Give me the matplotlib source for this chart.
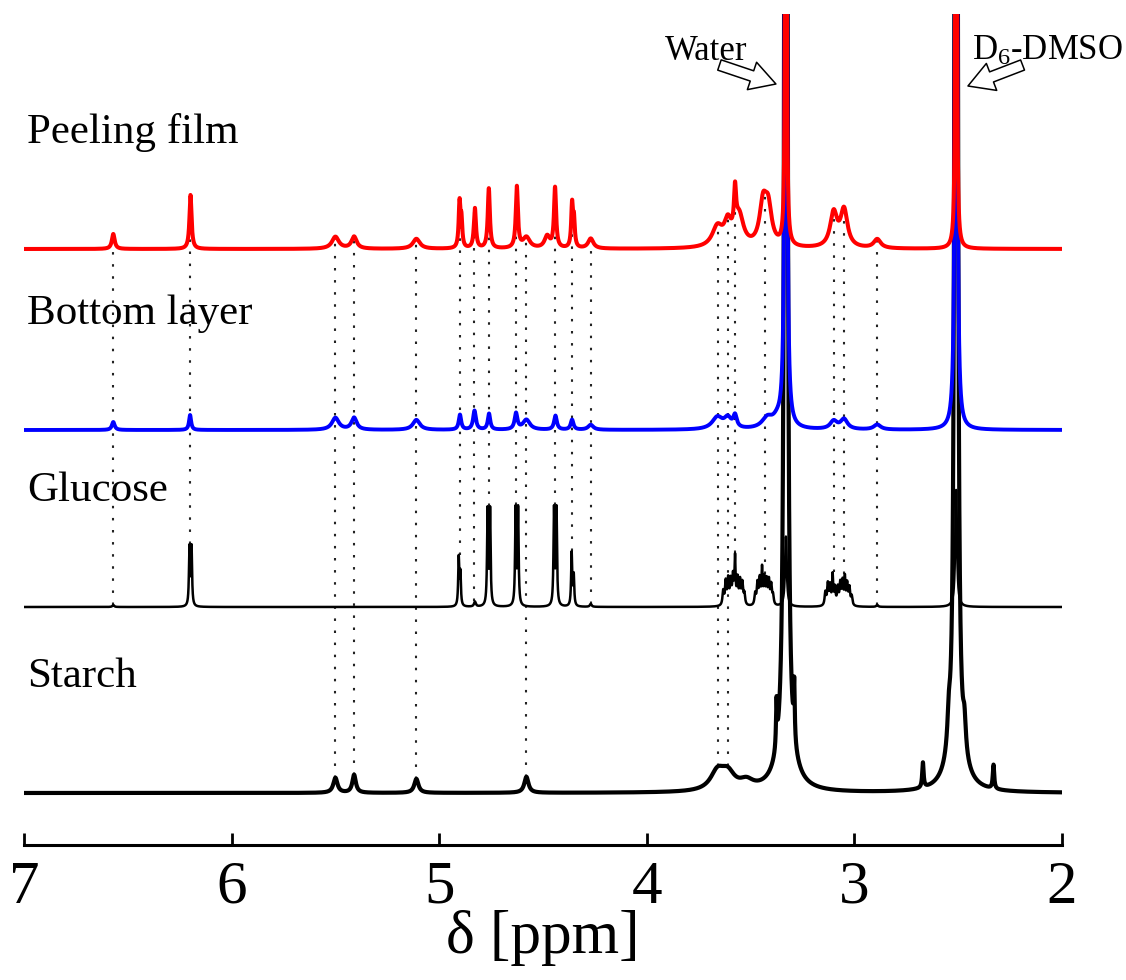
import numpy as np
import matplotlib
matplotlib.use("Agg")
import matplotlib.pyplot as plt

plt.rcParams['font.family'] = ['Liberation Serif', 'DejaVu Serif']
plt.rcParams['mathtext.fontset'] = 'custom'
plt.rcParams['mathtext.rm'] = 'Liberation Serif'
plt.rcParams['mathtext.it'] = 'Liberation Serif:italic'

# ---- chemical-shift axis ----
ppm_max, ppm_min = 7.0, 2.0
tick_values = [7, 6, 5, 4, 3, 2]
tick_labels = ['7', '6', '5', '4', '3', '2']

# ---- peak tables: position [ppm], height [a.u.], half width [ppm] ----
film_pos = [6.57, 6.198, 5.50, 5.41, 5.11, 4.902, 4.893, 4.828,
            4.761, 4.626, 4.58, 4.48, 4.442, 4.360, 4.351,
            4.27, 3.66, 3.61, 3.575, 3.555, 3.44, 3.415, 3.33, 3.10, 3.05, 2.89, 2.51]
film_height = [15, 54, 12, 12, 10, 44, 26, 40,
               60, 61, 11, 12, 60, 42, 26,
               10, 20, 22, 40, 30, 40, 36, 3000, 34, 37, 9, 3000]
film_width = [0.008, 0.006, 0.02, 0.015, 0.02, 0.005, 0.005, 0.006,
              0.006, 0.006, 0.02, 0.015, 0.006, 0.005, 0.005,
              0.015, 0.03, 0.02, 0.006, 0.025, 0.02, 0.02, 0.0015, 0.02, 0.02, 0.02, 0.0015]

bottom_pos = [6.57, 6.20, 5.50, 5.41, 5.11, 4.90, 4.83, 4.76, 4.63, 4.58,
              4.44, 4.36, 4.27, 3.66, 3.61, 3.575, 3.42, 3.37, 3.33, 3.10,
              3.05, 2.89, 2.51]
bottom_height = [8, 15, 12, 12, 10, 15, 19, 16, 16, 10,
                 14, 10, 5, 12, 10, 12, 10, 8, 4000, 8,
                 10, 5, 4000]
bottom_width = [0.008, 0.006, 0.02, 0.015, 0.02, 0.007, 0.008, 0.007, 0.008, 0.02,
                0.008, 0.008, 0.015, 0.03, 0.02, 0.01, 0.03, 0.03, 0.0022, 0.02,
                0.02, 0.02, 0.0022]

glucose_pos = [6.57, 6.203, 6.193, 4.906, 4.898, 4.828, 4.767, 4.755, 4.632, 4.620,
               4.447, 4.435, 4.362, 4.352, 4.27,
               3.632, 3.620, 3.608, 3.596, 3.585, 3.575, 3.563, 3.551, 3.540, 3.530,
               3.478, 3.467, 3.456, 3.445, 3.434, 3.423, 3.412, 3.401, 3.392,
               3.33, 3.140, 3.128, 3.117, 3.105, 3.094,
               3.080, 3.068, 3.057, 3.046, 3.035, 3.024, 3.013, 2.89, 2.51]
glucose_height = [2, 58, 58, 48, 32, 5, 95, 95, 96, 96,
                  96, 96, 53, 30, 3,
                  14, 23, 25, 23, 27, 45, 25, 23, 21, 11,
                  11, 21, 25, 34, 25, 23, 23, 19, 9,
                  70, 13, 21, 19, 29, 17,
                  17, 21, 23, 26, 21, 17, 9, 2, 117]
glucose_width = [0.005, 0.003, 0.003, 0.003, 0.003, 0.005, 0.003, 0.003, 0.003, 0.003,
                 0.003, 0.003, 0.003, 0.003, 0.005,
                 0.004, 0.004, 0.004, 0.004, 0.004, 0.003, 0.004, 0.004, 0.004, 0.004,
                 0.004, 0.004, 0.004, 0.003, 0.004, 0.004, 0.004, 0.004, 0.004,
                 0.005, 0.004, 0.004, 0.004, 0.003, 0.004,
                 0.004, 0.004, 0.004, 0.003, 0.004, 0.004, 0.004, 0.005, 0.005]

starch_pos = [5.50, 5.41, 5.11, 4.58, 3.66, 3.61, 3.52, 3.375, 3.33, 3.33,
              3.29, 2.67, 2.545, 2.51, 2.51, 2.47, 2.33]
starch_height = [15, 18, 14, 16, 18, 16, 8, 45, 8000, 35,
                 55, 25, 30, 8000, 30, 30, 24]
starch_width = [0.012, 0.01, 0.012, 0.012, 0.04, 0.04, 0.04, 0.003, 0.0028, 0.05,
                0.003, 0.004, 0.008, 0.0028, 0.05, 0.008, 0.004]

trace_names = ['Peeling film', 'Bottom layer', 'Glucose', 'Starch']
trace_colors = ['#ff0000', '#0000ff', '#000000', '#000000']
trace_offsets = [596, 415, 238, 52]

# guide lines: (shift, trace index where the line ends)
guide_ppm = [6.57, 6.20, 5.50, 5.41, 5.11, 4.90, 4.83, 4.76, 4.63, 4.58,
             4.44, 4.36, 4.27, 3.657, 3.609, 3.575, 3.43, 3.10, 3.05, 2.89]
guide_end = [2, 2, 3, 3, 3, 2, 2, 2, 2, 3,
             2, 2, 2, 3, 3, 2, 2, 2, 2, 2]


def spectrum(x, pos, height, width):
    y = np.zeros_like(x)
    for p, h, w in zip(pos, height, width):
        y += h / (1.0 + ((x - p) / w) ** 2)
    return y


x = np.linspace(ppm_max, ppm_min, 40001)
traces = [
    spectrum(x, film_pos, film_height, film_width) + trace_offsets[0],
    spectrum(x, bottom_pos, bottom_height, bottom_width) + trace_offsets[1],
    spectrum(x, glucose_pos, glucose_height, glucose_width) + trace_offsets[2],
    spectrum(x, starch_pos, starch_height, starch_width) + trace_offsets[3],
]

W, H = 1126, 980
fig = plt.figure(figsize=(W / 100, H / 100), dpi=100)
ax = fig.add_axes([24 / W, 135 / H, (1062 - 24) / W, (845 - 14) / H])
ax.set_xlim(ppm_max, ppm_min)
ax.set_ylim(0, 831)

# dotted assignment guides
xr = x[::-1]
for p, k in zip(guide_ppm, guide_end):
    top = np.interp(p, xr, traces[0][::-1])
    win = (x > p - 0.006) & (x < p + 0.006)
    bot = traces[k][win].max()
    ax.plot([p, p], [bot, top], color='#222222', lw=1.5,
            linestyle=(0, (1.2, 4.6)), zorder=1)

line_widths = [2.9, 2.8, 1.8, 3.0]
zorders = [5, 4, 3, 2]
for i in range(4):
    ax.plot(x, traces[i], color=trace_colors[i], lw=line_widths[i],
            zorder=zorders[i], solid_joinstyle='round')
    ax.text(6.985, trace_offsets[i] + 106, trace_names[i], fontsize=31,
            ha='left', va='baseline', zorder=6)

# solvent annotations
ax.text(3.912, 785, 'Water', fontsize=25, ha='left', va='baseline')
ax.text(2.434, 785, r'D$_{\mathit{6}}$-DMSO', fontsize=25, ha='left', va='baseline')
arrow_kw = dict(arrowstyle='simple,head_length=0.7,head_width=0.8,tail_width=0.3',
                fc='white', ec='black', lw=1.1, mutation_scale=26,
                shrinkA=0, shrinkB=0)
ax.annotate('', xy=(3.378, 761), xytext=(3.650, 780), arrowprops=arrow_kw)
ax.annotate('', xy=(2.453, 759), xytext=(2.190, 780), arrowprops=arrow_kw)

for s in ['left', 'right', 'top']:
    ax.spines[s].set_visible(False)
ax.spines['bottom'].set_linewidth(2.2)
ax.set_yticks([])
ax.set_xticks(tick_values)
ax.set_xticklabels(tick_labels)
ax.tick_params(axis='x', direction='in', length=9, width=2.0, labelsize=44, pad=11)
ax.set_xlabel(r'δ [ppm]', fontsize=44, labelpad=-4)

fig.savefig('out.png', dpi=100)
